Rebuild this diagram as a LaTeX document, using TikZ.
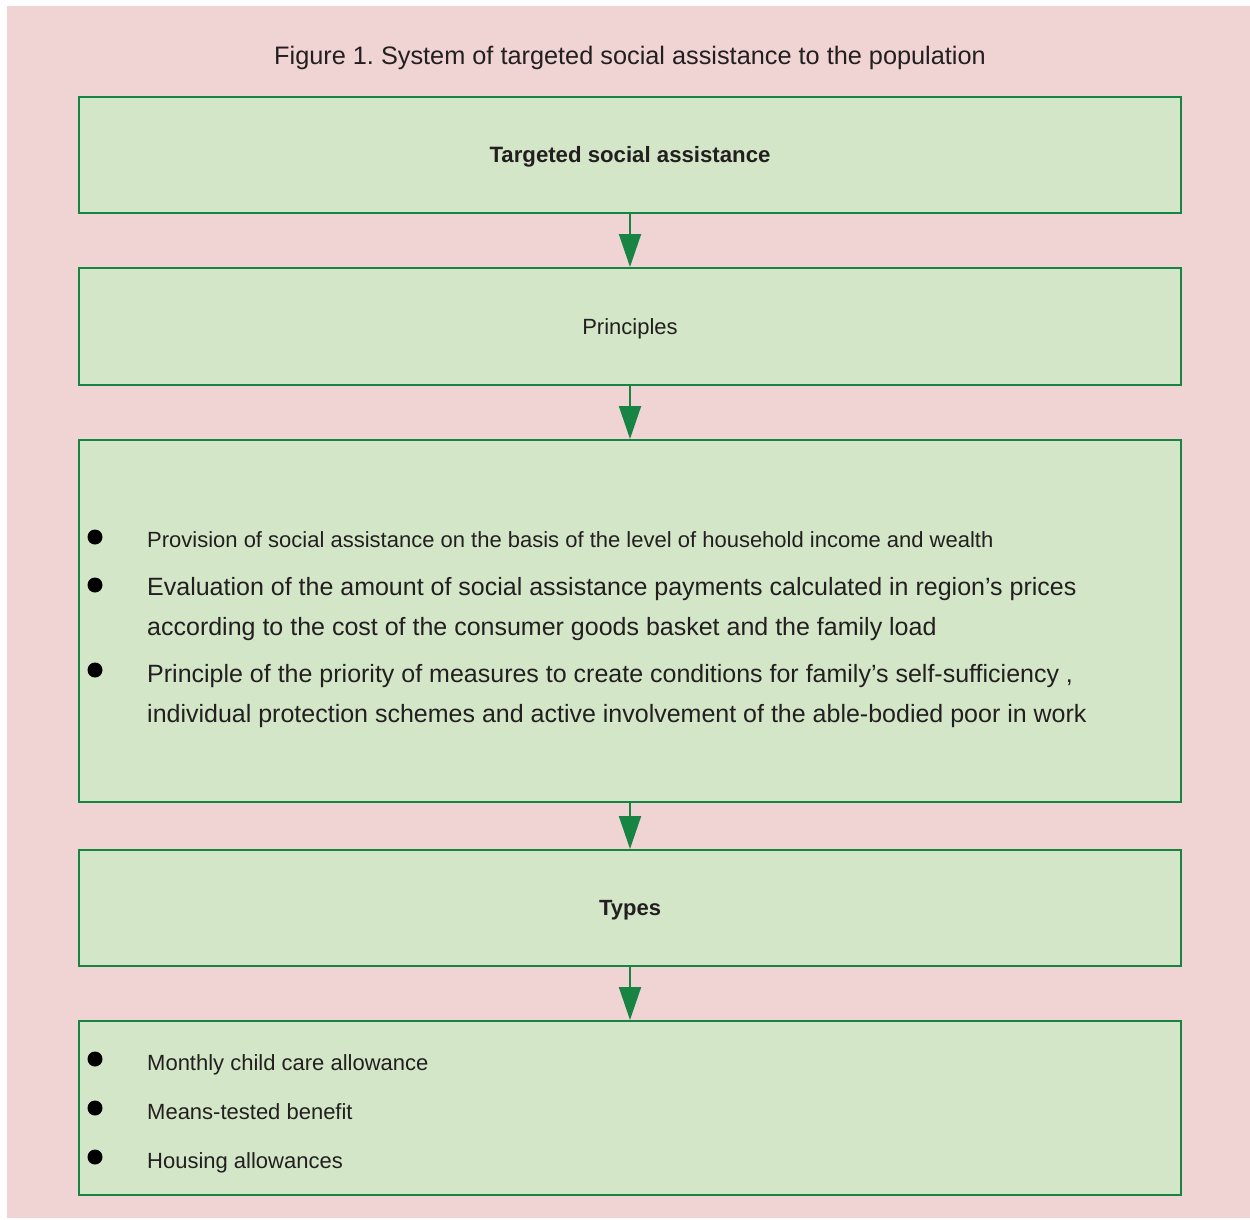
\documentclass[tikz,border=0pt]{standalone}
\usepackage{fontspec}
\setmainfont{Liberation Sans}
\usetikzlibrary{arrows.meta}
\frenchspacing
\definecolor{bgpink}{RGB}{240,212,212}
\definecolor{boxgreen}{RGB}{211,230,199}
\definecolor{linegreen}{RGB}{24,132,68}
\definecolor{txt}{RGB}{35,31,32}
\tikzset{
  panel/.style={draw=linegreen, line width=2pt, fill=boxgreen, rectangle, minimum width=1102pt, inner sep=0pt},
  flow/.style={draw=linegreen, line width=2pt, -{Triangle[length=33pt,width=22pt]}},
  lbl/.style={text=txt, inner sep=0pt, font=\fontsize{22}{40}\selectfont},
  big/.style={text=txt, inner sep=0pt, font=\fontsize{25}{40}\selectfont, align=left},
  dot/.style={circle, fill=black, minimum size=15pt, inner sep=0pt}
}
\begin{document}
\begin{tikzpicture}[x=1pt,y=-1pt]
\useasboundingbox (0,0) rectangle (1250,1219);
\fill[white] (0,0) rectangle (1250,1219);
\fill[bgpink] (7,6) rectangle (1250,1218);

\node[text=txt, inner sep=0pt, font=\fontsize{25.3}{30}\selectfont\frenchspacing, anchor=base] (title) at (630,64) {Figure 1. System of targeted social assistance to the population};

\node[panel, minimum height=116pt] (b1) at (630,155) {};
\node[panel, minimum height=117pt] (b2) at (630,326.5) {};
\node[panel, minimum height=362pt] (b3) at (630,621) {};
\node[panel, minimum height=116pt] (b4) at (630,908) {};
\node[panel, minimum height=174pt] (b5) at (630,1108) {};

\draw[flow] (b1.south) -- (b2.north);
\draw[flow] (b2.south) -- (b3.north);
\draw[flow] (b3.south) -- (b4.north);
\draw[flow] (b4.south) -- (b5.north);

\node[lbl, font=\fontsize{22.2}{40}\selectfont\bfseries, anchor=base] (t1) at (630,162) {Targeted social assistance};
\node[lbl, anchor=base] (t2) at (630,334) {Principles};
\node[lbl, font=\fontsize{22}{40}\selectfont\bfseries, anchor=base] (t4) at (630,915) {Types};

\node[dot] (d1) at (95,537) {};
\node[lbl, anchor=base west] (p1) at (147,547) {Provision of social assistance on the basis of the level of household income and wealth};
\node[dot] (d2) at (95,585) {};
\node[big, anchor=base west] (p2) at (147,635) {Evaluation of the amount of social assistance payments calculated in region’s prices\\according to the cost of the consumer goods basket and the family load};
\node[dot] (d3) at (95,670) {};
\node[big, anchor=base west] (p3) at (147,722) {Principle of the priority of measures to create conditions for family’s self-sufficiency ,\\individual protection schemes and active involvement of the able-bodied poor in work};

\node[dot] (d4) at (95,1059) {};
\node[lbl, anchor=base west] (y1) at (147,1070) {Monthly child care allowance};
\node[dot] (d5) at (95,1108) {};
\node[lbl, anchor=base west] (y2) at (147,1119) {Means-tested benefit};
\node[dot] (d6) at (95,1157) {};
\node[lbl, anchor=base west] (y3) at (147,1168) {Housing allowances};
\end{tikzpicture}
\end{document}
